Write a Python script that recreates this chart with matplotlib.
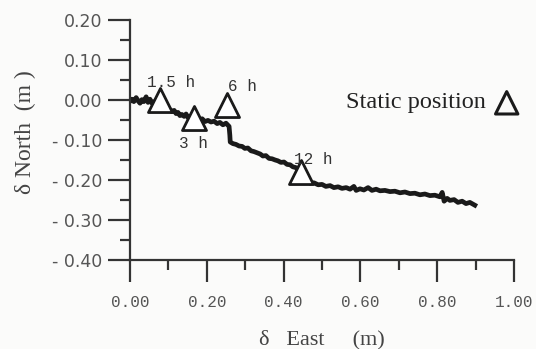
import matplotlib
matplotlib.use("Agg")
import matplotlib.pyplot as plt
from matplotlib.ticker import MultipleLocator

# Trajectory (metres)
east = [0.000, 0.005, 0.010, 0.016, 0.021, 0.026, 0.031, 0.036, 0.042, 0.047,
        0.052, 0.057, 0.063, 0.068, 0.073, 0.078, 0.083, 0.089, 0.094, 0.099,
        0.104, 0.109, 0.115, 0.120, 0.125, 0.130, 0.135, 0.141, 0.146, 0.151,
        0.156, 0.164, 0.172, 0.180, 0.188, 0.195, 0.203, 0.211, 0.219, 0.227,
        0.234, 0.242, 0.250, 0.258, 0.260, 0.261, 0.268, 0.276, 0.284, 0.292,
        0.299, 0.307, 0.315, 0.323, 0.331, 0.339, 0.346, 0.354, 0.362, 0.370,
        0.378, 0.385, 0.393, 0.401, 0.409, 0.417, 0.424, 0.432, 0.440, 0.448,
        0.453, 0.461, 0.469, 0.479, 0.490, 0.500, 0.510, 0.521, 0.531, 0.542,
        0.552, 0.563, 0.573, 0.583, 0.589, 0.599, 0.609, 0.620, 0.630, 0.641,
        0.651, 0.664, 0.677, 0.690, 0.703, 0.716, 0.729, 0.742, 0.755, 0.768,
        0.781, 0.794, 0.807, 0.813, 0.818, 0.826, 0.833, 0.844, 0.854, 0.865,
        0.875, 0.885, 0.898]
north = [-0.003, 0.002, -0.004, 0.006, -0.002, -0.008, 0.001, -0.004, 0.008, -0.006,
         0.002, -0.008, -0.004, -0.012, -0.006, -0.016, -0.013, -0.021, -0.017, -0.026,
         -0.024, -0.029, -0.026, -0.034, -0.031, -0.039, -0.036, -0.041, -0.035, -0.044,
         -0.041, -0.047, -0.045, -0.051, -0.047, -0.054, -0.051, -0.055, -0.053, -0.059,
         -0.056, -0.062, -0.058, -0.066, -0.088, -0.105, -0.109, -0.111, -0.115, -0.116,
         -0.121, -0.120, -0.127, -0.129, -0.132, -0.135, -0.140, -0.139, -0.146, -0.147,
         -0.150, -0.152, -0.156, -0.155, -0.161, -0.162, -0.167, -0.169, -0.176, -0.190,
         -0.204, -0.203, -0.208, -0.207, -0.212, -0.211, -0.216, -0.214, -0.219, -0.217,
         -0.221, -0.219, -0.223, -0.216, -0.226, -0.222, -0.225, -0.219, -0.226, -0.223,
         -0.227, -0.226, -0.229, -0.228, -0.232, -0.230, -0.234, -0.233, -0.237, -0.235,
         -0.239, -0.238, -0.242, -0.231, -0.253, -0.246, -0.251, -0.249, -0.256, -0.253,
         -0.259, -0.256, -0.263]

# Static positions (triangles) and their labels
static_east = [0.078, 0.167, 0.253, 0.445]
static_north = [0.000, -0.045, -0.012, -0.180]
static_labels = ["1.5 h", "3 h", "6 h", "12 h"]
label_east = [0.044, 0.128, 0.254, 0.428]
label_north = [0.043, -0.110, 0.034, -0.148]

x_ticks = [0.0, 0.2, 0.4, 0.6, 0.8, 1.0]
x_ticklabels = ["0.00", "0.20", "0.40", "0.60", "0.80", "1.00"]
y_ticks = [0.2, 0.1, 0.0, -0.1, -0.2, -0.3, -0.4]
y_ticklabels = ["0.20", "0.10", "0.00", "- 0.10", "- 0.20", "- 0.30", "- 0.40"]

W, H = 536, 349
fig = plt.figure(figsize=(W / 100, H / 100), dpi=100)
fig.patch.set_facecolor("#fbfbfa")
ax = fig.add_axes([130 / W, 1 - 260 / H, 384 / W, 240 / H])
ax.set_facecolor("none")

ax.plot(east, north, color="#1a1a1a", lw=3.4, solid_joinstyle="round")
ax.scatter(static_east, static_north, marker="^", s=300, facecolors="white",
           edgecolors="#1a1a1a", linewidths=2.0, zorder=3)
for xe, yn, t in zip(label_east, label_north, static_labels):
    ax.text(xe, yn, t, fontsize=11.5, family="Liberation Mono", color="#333333",
            ha="left", va="center", zorder=4)

ax.set_xlim(0, 1.0)
ax.set_ylim(-0.4, 0.2)
for s in ["top", "right"]:
    ax.spines[s].set_visible(False)
for s in ["left", "bottom"]:
    ax.spines[s].set_color("#333333")
    ax.spines[s].set_linewidth(1.6)

ax.set_xticks(x_ticks)
ax.set_xticklabels(x_ticklabels, family="Liberation Mono", fontsize=11.5, color="#555555")
ax.set_yticks(y_ticks)
ax.set_yticklabels(y_ticklabels, family="DejaVu Sans", fontsize=12.5, color="#555555")
ax.xaxis.set_minor_locator(MultipleLocator(0.1))
ax.yaxis.set_minor_locator(MultipleLocator(0.05))
ax.tick_params(which="major", direction="out", length=16, width=1.6, color="#333333")
ax.tick_params(axis="x", which="major", pad=9)
ax.tick_params(axis="y", which="major", pad=4)
ax.tick_params(which="minor", direction="out", length=7, width=1.6, color="#333333")

fig.text(25 / W, 1 - 132 / H, "δ North  (m )", rotation=90, ha="center", va="center",
         family="Liberation Serif", fontsize=17, color="#444444")
fig.text(322 / W, 1 - 340 / H, "δ   East     (m)", ha="center", va="center",
         family="Liberation Serif", fontsize=16, color="#444444")

fig.text(416 / W, 1 - 102 / H, "Static position", ha="center", va="center",
         family="Liberation Serif", fontsize=17.5, color="#222222")
ax.scatter([0.981], [-0.007], marker="^", s=260, facecolors="none",
           edgecolors="#1a1a1a", linewidths=2.2, clip_on=False)

fig.savefig("out.png", dpi=100, facecolor=fig.get_facecolor())
